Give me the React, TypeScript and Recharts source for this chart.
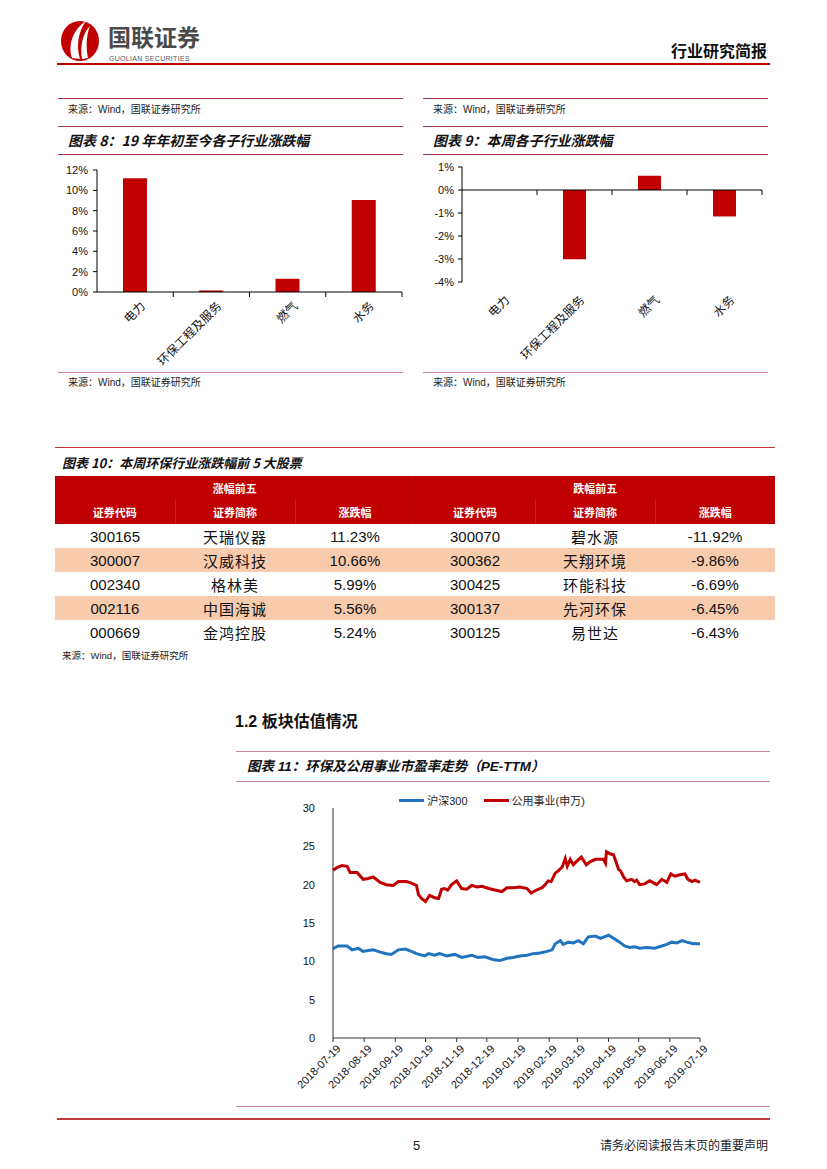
import React from "react";
import {
  BarChart,
  Bar,
  XAxis,
  YAxis,
  ReferenceLine,
  LineChart,
  Line,
  Legend,
} from "recharts";

// 子行业涨跌幅 (%)
const SECTORS = ["电力", "环保工程及服务", "燃气", "水务"];
const YTD_CHANGE = [11.2, 0.15, 1.3, 9.05];
const WEEK_CHANGE = [0, -3.01, 0.62, -1.15];
const YTD_TICKS = [0, 2, 4, 6, 8, 10, 12];
const WEEK_TICKS = [-4, -3, -2, -1, 0, 1];

// 本周涨跌幅前5
const GAIN_CODES = ["300165", "300007", "002340", "002116", "000669"];
const GAIN_NAMES = ["天瑞仪器", "汉威科技", "格林美", "中国海诚", "金鸿控股"];
const GAIN_PCT = ["11.23%", "10.66%", "5.99%", "5.56%", "5.24%"];
const LOSS_CODES = ["300070", "300362", "300425", "300137", "300125"];
const LOSS_NAMES = ["碧水源", "天翔环境", "环能科技", "先河环保", "易世达"];
const LOSS_PCT = ["-11.92%", "-9.86%", "-6.69%", "-6.45%", "-6.43%"];

// PE-TTM, x = days since 2018-07-19
const PE_TICK_DATES = [
  "2018-07-19", "2018-08-19", "2018-09-19", "2018-10-19", "2018-11-19",
  "2018-12-19", "2019-01-19", "2019-02-19", "2019-03-19", "2019-04-19",
  "2019-05-19", "2019-06-19", "2019-07-19",
];
const PE_Y_TICKS = [0, 5, 10, 15, 20, 25, 30];
const UTIL_DAYS = [
  0, 5, 9, 14, 17, 24, 30, 35, 40, 47, 53, 60, 65, 73, 78, 83, 85, 88, 92, 96,
  101, 105, 108, 111, 114, 118, 123, 128, 133, 138, 143, 148, 155, 161, 168,
  173, 179, 186, 193, 197, 201, 204, 208, 211, 214, 217, 221, 224, 228, 231,
  233, 236, 239, 242, 247, 252, 256, 261, 266, 269, 271, 272, 276, 279, 284,
  286, 289, 292, 297, 300, 302, 305, 310, 315, 318, 322, 327, 332, 336, 340,
  345, 350, 353, 357, 360, 365,
];
const UTIL_PE = [
  21.9, 22.3, 22.5, 22.4, 21.6, 21.6, 20.7, 20.8, 21.0, 20.3, 20.0, 19.9, 20.4,
  20.4, 20.2, 19.9, 18.7, 18.2, 17.8, 18.6, 18.3, 18.2, 19.4, 19.5, 19.3, 20.0,
  20.5, 19.5, 19.4, 19.9, 19.7, 19.8, 19.5, 19.3, 19.1, 19.6, 19.6, 19.7, 19.5,
  18.9, 19.2, 19.4, 19.6, 20.0, 20.5, 20.4, 21.5, 21.8, 22.3, 23.4, 22.4, 23.3,
  22.6, 23.0, 23.6, 22.6, 23.0, 23.3, 23.3, 23.3, 22.8, 24.3, 24.0, 23.9, 22.0,
  21.8, 21.0, 20.5, 20.7, 20.4, 20.6, 20.0, 20.1, 20.5, 20.3, 20.0, 20.7, 20.3,
  21.4, 21.1, 21.3, 21.4, 20.7, 20.4, 20.6, 20.3,
];
const HS300_DAYS = [
  0, 5, 14, 19, 25, 30, 35, 40, 47, 53, 58, 65, 72, 78, 83, 91, 95, 101, 106,
  113, 121, 128, 138, 144, 151, 160, 166, 173, 179, 186, 193, 199, 206, 213,
  218, 221, 226, 229, 234, 239, 244, 249, 254, 261, 266, 274, 279, 284, 290,
  295, 300, 305, 312, 320, 327, 332, 337, 342, 347, 352, 358, 365,
];
const HS300_PE = [
  11.65, 12.0, 12.0, 11.5, 11.7, 11.3, 11.4, 11.5, 11.2, 11.0, 10.9, 11.5, 11.6,
  11.3, 11.0, 10.7, 11.0, 10.8, 11.0, 10.7, 10.9, 10.5, 10.8, 10.5, 10.6, 10.2,
  10.1, 10.4, 10.5, 10.7, 10.8, 11.0, 11.1, 11.3, 11.5, 12.3, 12.7, 12.2, 12.5,
  12.4, 12.7, 12.3, 13.2, 13.3, 13.0, 13.4, 13.0, 12.6, 12.0, 11.8, 11.9, 11.7,
  11.8, 11.7, 12.0, 12.2, 12.5, 12.4, 12.7, 12.5, 12.3, 12.3,
];

const CJK = '"Noto Sans CJK SC", sans-serif';
const LATIN = '"Liberation Sans", Arial, "Noto Sans CJK SC", sans-serif';
const RED = "#c00000";
const LINE_DARK = "#a8364a";
const LINE_LIGHT = "#cf8492";

const dayOf = (d: string) =>
  Math.round((Date.parse(d) - Date.parse(PE_TICK_DATES[0])) / 86400000);
const PE_TICK_DAYS = PE_TICK_DATES.map(dayOf);

const ytdData = SECTORS.map((name, i) => ({ name, value: YTD_CHANGE[i] }));
const weekData = SECTORS.map((name, i) => ({ name, value: WEEK_CHANGE[i] }));
const utilData = UTIL_DAYS.map((day, i) => ({ day, pe: UTIL_PE[i] }));
const hs300Data = HS300_DAYS.map((day, i) => ({ day, pe: HS300_PE[i] }));

function Txt({ x, y, size = 10, right, font = LATIN, style, children }: any) {
  return (
    <div
      style={{
        position: "absolute",
        top: y,
        left: right ? undefined : x,
        right: right ? 827 - x : undefined,
        transform: "translateY(-50%)",
        fontSize: size,
        fontFamily: font,
        lineHeight: 1,
        whiteSpace: "nowrap",
        color: "#222",
        ...style,
      }}
    >
      {children}
    </div>
  );
}

function HLine({ x1, x2, y, color, w = 1 }: any) {
  return (
    <div
      style={{
        position: "absolute",
        left: x1,
        top: y,
        width: x2 - x1,
        height: w,
        background: color,
      }}
    />
  );
}

// 分类标签：旋转 45 度，分隔刻度画在类别边界
function SectorTick(props: any) {
  const { x, y, payload, band, zeroUp = 0, gap } = props;
  const zy = y - zeroUp;
  const ty = y + gap;
  return (
    <g>
      <line x1={x + band / 2} x2={x + band / 2} y1={zy} y2={zy + 5} stroke="#000" />
      <text
        x={x + 4}
        y={ty}
        transform={`rotate(-45 ${x + 4} ${ty})`}
        textAnchor="end"
        dy="0.8em"
        fontSize={12}
        fontFamily={CJK}
        fill="#111"
      >
        {payload.value}
      </text>
    </g>
  );
}

function DateTick(props: any) {
  const { x, y, payload } = props;
  const label = PE_TICK_DATES[PE_TICK_DAYS.indexOf(payload.value)];
  return (
    <text
      x={x + 3}
      y={y}
      transform={`rotate(-45 ${x + 3} ${y})`}
      textAnchor="end"
      dy="0.7em"
      fontSize={11}
      fontFamily={LATIN}
      fill="#111"
    >
      {label}
    </text>
  );
}

function PeLegend() {
  const item = (color: string, label: string) => (
    <span style={{ display: "inline-flex", alignItems: "center", marginRight: 16 }}>
      <span style={{ width: 25, height: 3, background: color, marginRight: 3 }} />
      <span style={{ fontFamily: LATIN, fontSize: 11, color: "#222" }}>{label}</span>
    </span>
  );
  return (
    <div
      style={{
        height: 16,
        display: "flex",
        alignItems: "center",
        justifyContent: "center",
        paddingLeft: 20,
      }}
    >
      {item("#1f73bf", "沪深300")}
      {item(RED, "公用事业(申万)")}
    </div>
  );
}

const axisTick = { fontSize: 11, fill: "#111", fontFamily: LATIN };

export default function App() {
  const ytdBand = (355 - 42 - 8) / SECTORS.length;
  const weekBand = (350 - 42 - 8) / SECTORS.length;
  const weekPlotH = 115;

  const th: React.CSSProperties = {
    color: "#fff",
    fontFamily: CJK,
    fontSize: 11,
    fontWeight: 700,
    textAlign: "center",
    padding: 0,
  };
  const td: React.CSSProperties = {
    textAlign: "center",
    padding: 0,
    height: 24,
    fontSize: 15,
    color: "#111",
  };

  return (
    <div
      style={{
        position: "absolute",
        left: 0,
        top: 0,
        width: 827,
        height: 1169,
        background: "#fff",
        overflow: "hidden",
      }}
    >
      {/* 页眉 */}
      <svg style={{ position: "absolute", left: 58, top: 18 }} width={46} height={44}>
        <ellipse cx={22} cy={23} rx={19} ry={20} fill={RED} />
        <path d="M14 40 C10 28 14 12 28 3 C20 14 18 28 22 41 Z" fill="#fff" />
        <path d="M24 41 C22 30 24 16 32 8 C28 18 28 30 30 40 Z" fill="#fff" />
      </svg>
      <Txt x={108} y={36} size={23} font={CJK} style={{ fontWeight: 700, color: "#4a4a4a" }}>
        国联证券
      </Txt>
      <Txt x={109} y={58} size={7} style={{ color: "#555", letterSpacing: 0.3 }}>
        GUOLIAN SECURITIES
      </Txt>
      <Txt x={767} y={50} size={16} right font={CJK} style={{ fontWeight: 700, color: "#111" }}>
        行业研究简报
      </Txt>
      <HLine x1={57} x2={770} y={63} color={RED} w={2} />

      {/* 图表 8 */}
      <HLine x1={58} x2={403} y={98} color={LINE_DARK} />
      <Txt x={68} y={110}>来源：Wind，国联证券研究所</Txt>
      <HLine x1={58} x2={403} y={126} color={LINE_DARK} />
      <Txt x={68} y={140} size={14} font={CJK} style={{ fontWeight: 700, fontStyle: "italic", color: "#111" }}>
        图表 8：19 年年初至今各子行业涨跌幅
      </Txt>
      <HLine x1={58} x2={403} y={154} color={LINE_DARK} />
      <div style={{ position: "absolute", left: 55, top: 160 }}>
        <BarChart
          width={355}
          height={230}
          data={ytdData}
          margin={{ top: 10, right: 8, bottom: 0, left: 0 }}
        >
          <YAxis
            width={42}
            domain={[0, 12]}
            ticks={YTD_TICKS}
            tickFormatter={(v) => `${v}%`}
            tick={axisTick}
            tickSize={4}
            tickMargin={5}
            stroke="#000"
          />
          <XAxis
            dataKey="name"
            height={98}
            interval={0}
            tickLine={false}
            tickSize={0}
            tickMargin={0}
            stroke="#000"
            tick={<SectorTick band={ytdBand} gap={8} />}
          />
          <Bar dataKey="value" fill={RED} barSize={24} isAnimationActive={false} />
        </BarChart>
      </div>
      <HLine x1={58} x2={403} y={372} color={LINE_LIGHT} />
      <Txt x={68} y={383}>来源：Wind，国联证券研究所</Txt>

      {/* 图表 9 */}
      <HLine x1={423} x2={768} y={98} color={LINE_DARK} />
      <Txt x={433} y={110}>来源：Wind，国联证券研究所</Txt>
      <HLine x1={423} x2={768} y={126} color={LINE_DARK} />
      <Txt x={433} y={140} size={14} font={CJK} style={{ fontWeight: 700, fontStyle: "italic", color: "#111" }}>
        图表 9：本周各子行业涨跌幅
      </Txt>
      <HLine x1={423} x2={768} y={154} color={LINE_DARK} />
      <div style={{ position: "absolute", left: 420, top: 155 }}>
        <BarChart
          width={350}
          height={235}
          data={weekData}
          margin={{ top: 12, right: 8, bottom: 0, left: 0 }}
        >
          <YAxis
            width={42}
            domain={[-4, 1]}
            ticks={WEEK_TICKS}
            tickFormatter={(v) => `${v}%`}
            tick={axisTick}
            tickSize={4}
            tickMargin={4}
            stroke="#000"
          />
          <XAxis
            dataKey="name"
            height={108}
            interval={0}
            axisLine={false}
            tickLine={false}
            tickSize={0}
            tickMargin={0}
            tick={<SectorTick band={weekBand} gap={12} zeroUp={(weekPlotH * 4) / 5} />}
          />
          <Bar dataKey="value" fill={RED} barSize={23} isAnimationActive={false} />
          <ReferenceLine y={0} stroke="#000" />
        </BarChart>
      </div>
      <HLine x1={423} x2={768} y={372} color={LINE_LIGHT} />
      <Txt x={433} y={383}>来源：Wind，国联证券研究所</Txt>

      {/* 图表 10 */}
      <HLine x1={55} x2={775} y={447} color="#d0303a" />
      <Txt x={62} y={462} size={13} font={CJK} style={{ fontWeight: 700, fontStyle: "italic", color: "#111" }}>
        图表 10：本周环保行业涨跌幅前 5 大股票
      </Txt>
      <table
        style={{
          position: "absolute",
          left: 55,
          top: 476,
          width: 720,
          borderCollapse: "collapse",
          tableLayout: "fixed",
          fontFamily: LATIN,
        }}
      >
        <colgroup>
          {[0, 1, 2, 3, 4, 5].map((i) => (
            <col key={i} style={{ width: 120 }} />
          ))}
        </colgroup>
        <tbody>
          <tr style={{ background: RED, height: 23 }}>
            <th colSpan={3} style={{ ...th, borderRight: "1px solid #a80000" }}>涨幅前五</th>
            <th colSpan={3} style={th}>跌幅前五</th>
          </tr>
          <tr style={{ background: RED, height: 25 }}>
            {["证券代码", "证券简称", "涨跌幅", "证券代码", "证券简称", "涨跌幅"].map((h, i) => (
              <th
                key={i}
                style={{
                  ...th,
                  borderRight: i === 2 ? "1px solid #a80000" : i < 5 ? "1px solid #c82020" : undefined,
                }}
              >
                {h}
              </th>
            ))}
          </tr>
          {GAIN_CODES.map((code, i) => (
            <tr key={code} style={{ background: i % 2 === 1 ? "#f8cbad" : "#fff" }}>
              <td style={td}>{code}</td>
              <td style={{ ...td, fontFamily: CJK, letterSpacing: 1 }}>{GAIN_NAMES[i]}</td>
              <td style={td}>{GAIN_PCT[i]}</td>
              <td style={td}>{LOSS_CODES[i]}</td>
              <td style={{ ...td, fontFamily: CJK, letterSpacing: 1 }}>{LOSS_NAMES[i]}</td>
              <td style={td}>{LOSS_PCT[i]}</td>
            </tr>
          ))}
        </tbody>
      </table>
      <Txt x={62} y={656} size={9.5}>来源：Wind，国联证券研究所</Txt>

      {/* 1.2 板块估值情况 */}
      <Txt x={235} y={722} size={16} font={LATIN} style={{ fontWeight: 700, color: "#111" }}>
        1.2 板块估值情况
      </Txt>
      <HLine x1={236} x2={770} y={751} color={LINE_LIGHT} />
      <Txt x={247} y={767} size={13.5} font={LATIN} style={{ fontWeight: 700, fontStyle: "italic", color: "#111" }}>
        图表 11：环保及公用事业市盈率走势（PE-TTM）
      </Txt>
      <HLine x1={236} x2={770} y={781} color={LINE_LIGHT} />
      <div style={{ position: "absolute", left: 280, top: 792 }}>
        <LineChart width={430} height={318} margin={{ top: 0, right: 10, bottom: 8, left: 0 }}>
          <Legend verticalAlign="top" align="center" height={16} content={<PeLegend />} />
          <YAxis
            width={53}
            type="number"
            domain={[0, 30]}
            ticks={PE_Y_TICKS}
            tick={axisTick}
            tickLine={false}
            tickSize={0}
            tickMargin={18}
            stroke="#333"
          />
          <XAxis
            dataKey="day"
            type="number"
            domain={[0, PE_TICK_DAYS[PE_TICK_DAYS.length - 1]]}
            ticks={PE_TICK_DAYS}
            interval={0}
            height={64}
            tickSize={4}
            tickMargin={2}
            stroke="#333"
            tick={<DateTick />}
            allowDuplicatedCategory={false}
          />
          <Line
            data={hs300Data}
            dataKey="pe"
            name="沪深300"
            type="linear"
            stroke="#1f73bf"
            strokeWidth={3}
            dot={false}
            isAnimationActive={false}
          />
          <Line
            data={utilData}
            dataKey="pe"
            name="公用事业(申万)"
            type="linear"
            stroke={RED}
            strokeWidth={3}
            dot={false}
            isAnimationActive={false}
          />
        </LineChart>
      </div>
      <HLine x1={236} x2={770} y={1106} color={LINE_LIGHT} />

      {/* 页脚 */}
      <HLine x1={57} x2={770} y={1118} color="#c0393f" w={2} />
      <Txt x={413} y={1145} size={13}>5</Txt>
      <Txt x={768} y={1145} size={12} right font={CJK} style={{ color: "#222" }}>
        请务必阅读报告末页的重要声明
      </Txt>
    </div>
  );
}
